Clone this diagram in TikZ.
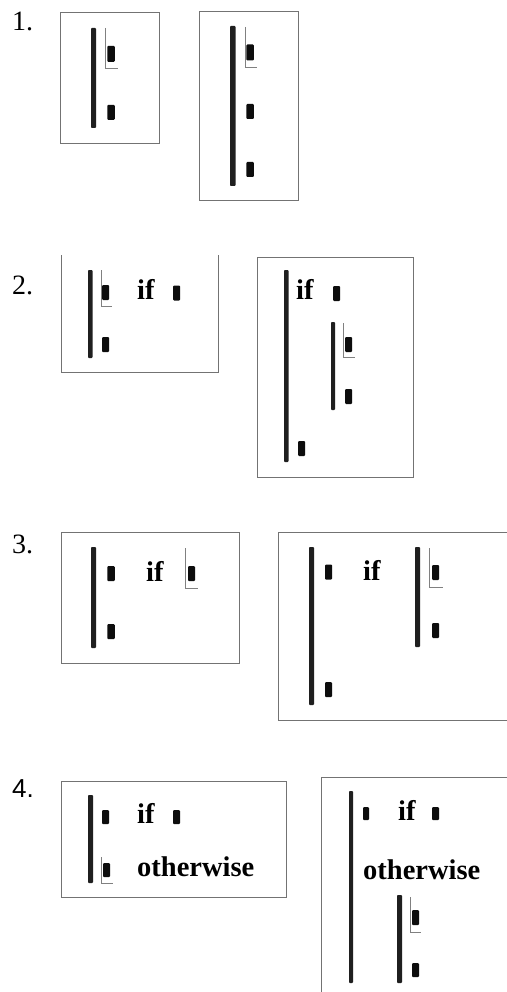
\documentclass[tikz,border=0pt]{standalone}
\usepackage{fontspec}
\setmainfont{Liberation Serif}
\newfontfamily\lsans{Liberation Sans}
\tikzset{
  frame/.style={draw=black!55, line width=0.8pt},
  bar/.style={fill=black!88, rounded corners=0.8pt},
  brk/.style={draw=black!50, line width=0.7pt},
  blk/.style={fill=black!95, rounded corners=1pt, minimum width=7.5pt, minimum height=15pt, inner sep=0pt, outer sep=0pt},
  kw/.style={anchor=base west, inner sep=0pt, font=\fontsize{28.5}{28.5}\selectfont\bfseries},
  num/.style={anchor=base west, inner sep=0pt, font=\fontsize{28}{28}\selectfont},
}
\begin{document}
\begin{tikzpicture}[x=1pt,y=-1pt]
\useasboundingbox (0,0) rectangle (506,992);
\fill[white] (0,0) rectangle (506,992);
% ---------- Panel 1 ----------
\node[num] (n1) at (12,31) {1.};
\draw[frame] (60,12) rectangle (159,143);
\fill[bar] (91,28) rectangle (96,128);
\draw[brk] (105,28) -- (105,68) -- (118,68);
\node[blk, minimum height=16pt] (a1) at (111,54) {};
\node[blk] (a2) at (111,112.5) {};
\draw[frame] (199,11) rectangle (298,200);
\fill[bar] (230,26) rectangle (235.5,186);
\draw[brk] (245,27) -- (245,67) -- (257,67);
\node[blk, minimum height=16pt] (b1) at (250,52.5) {};
\node[blk] (b2) at (250,111.5) {};
\node[blk] (b3) at (250,169.5) {};
% ---------- Panel 2 ----------
\node[num] (n2) at (12,294) {2.};
\draw[frame] (61,255) -- (61,372) -- (218,372) -- (218,255);
\fill[bar] (88,270) rectangle (92.5,358);
\draw[brk] (101,270) -- (101,306) -- (112,306);
\node[blk, minimum width=7pt] (c1) at (105.5,292.5) {};
\node[kw] (cif) at (137,299) {if};
\node[blk, minimum width=7pt] (c2) at (176.5,293) {};
\node[blk, minimum width=7pt] (c3) at (105.5,344.5) {};
\draw[frame] (257,257) rectangle (413,477);
\fill[bar] (284,270) rectangle (288.5,462);
\node[kw] (dif) at (296,299) {if};
\node[blk, minimum width=7pt] (d1) at (336.5,293.5) {};
\fill[bar] (331,322) rectangle (335,410);
\draw[brk] (343,323) -- (343,357) -- (355,357);
\node[blk, minimum width=7pt] (d2) at (348.5,344.5) {};
\node[blk, minimum width=7pt] (d3) at (348.5,396.5) {};
\node[blk, minimum width=7pt] (d4) at (301.5,448.5) {};
% ---------- Panel 3 ----------
\node[num] (n3) at (12,553) {3.};
\draw[frame] (61,532) rectangle (239,663);
\fill[bar] (91,547) rectangle (96,648);
\node[blk] (e1) at (111,573.5) {};
\node[kw] (eif) at (146,581) {if};
\draw[brk] (185,548) -- (185,588) -- (198,588);
\node[blk, minimum width=7pt] (e2) at (191.5,573.5) {};
\node[blk] (e3) at (111,631.5) {};
\draw[frame] (508,532) -- (278,532) -- (278,720) -- (508,720);
\fill[bar] (309,547) rectangle (314,705);
\node[blk, minimum width=7pt] (f1) at (328.5,572) {};
\node[kw] (fif) at (363,580) {if};
\fill[bar] (415,547) rectangle (420,647);
\draw[brk] (429,548) -- (429,587) -- (443,587);
\node[blk, minimum width=7pt] (f2) at (435.5,572.5) {};
\node[blk, minimum width=7pt] (f3) at (435.5,630.5) {};
\node[blk, minimum width=7pt] (f4) at (328.5,689.5) {};
% ---------- Panel 4 ----------
\node[num, font=\fontsize{26}{26}\selectfont\lsans] (n4) at (12,797) {4.};
\draw[frame] (61,781) rectangle (286,897);
\fill[bar] (88,795) rectangle (93,883);
\node[blk, minimum width=7pt, minimum height=14pt] (g1) at (105.5,817) {};
\node[kw] (gif) at (137,823) {if};
\node[blk, minimum width=7pt, minimum height=14pt] (g2) at (176.5,817) {};
\draw[brk] (101,857) -- (101,883) -- (113,883);
\node[blk, minimum width=7pt, minimum height=14pt] (g3) at (106.5,870) {};
\node[kw] (gow) at (137,876) {otherwise};
\draw[frame] (508,777) -- (321,777) -- (321,994);
\fill[bar] (349,791) rectangle (353,983);
\node[blk, minimum width=6pt, minimum height=13pt] (h1) at (366,813.5) {};
\node[kw] (hif) at (398,820) {if};
\node[blk, minimum width=7pt, minimum height=13pt] (h2) at (435.5,813.5) {};
\node[kw] (how) at (363,879) {otherwise};
\fill[bar] (397,895) rectangle (402,983);
\draw[brk] (410,897) -- (410,932) -- (421,932);
\node[blk, minimum width=7pt] (h3) at (415.5,917.5) {};
\node[blk, minimum width=7pt, minimum height=14pt] (h4) at (415.5,970) {};
\end{tikzpicture}
\end{document}
